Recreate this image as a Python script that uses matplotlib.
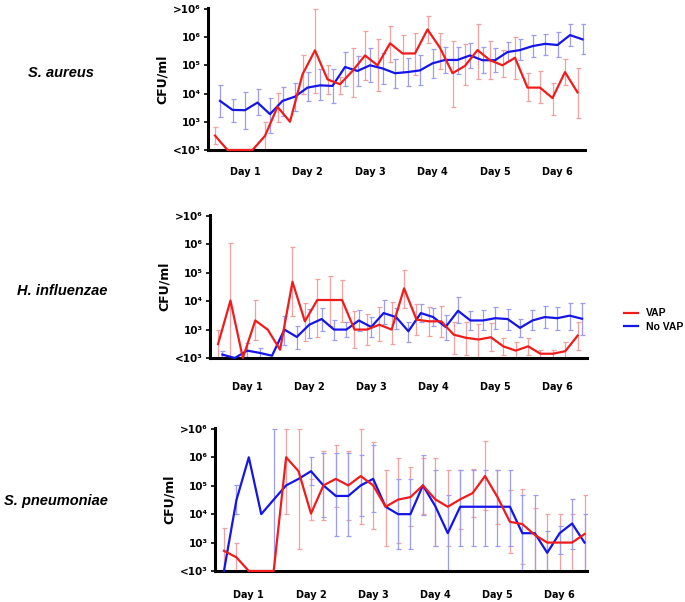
import matplotlib
matplotlib.use("Agg")
import matplotlib.pyplot as plt
import numpy as np

nan = np.nan

# values are log10(CFU/ml); 2 stands for "<10^3", 7 for ">10^6"
DAYS = ["Day 1", "Day 2", "Day 3", "Day 4", "Day 5", "Day 6"]
LEVELS = [2, 3, 4, 5, 6, 7]
LEVEL_LABELS = ["<10³", "10³", "10⁴", "10⁵", "10⁶", ">10⁶"]
SPECIES = ["S. aureus", "H. influenzae", "S. pneumoniae"]

SA_VAP = [2.51, 2.0, 2.0, 2.0, 2.5, 3.53, 3.0, 4.68, 5.53, 4.5, 4.33, 4.8, 5.35, 5.0, 5.78,
          5.42, 5.42, 6.27, 5.62, 4.72, 4.98, 5.54, 5.18, 5.0, 5.27, 4.21, 4.21, 3.84, 4.76, 4.04]
SA_VAP_HI = [2.82, nan, nan, nan, 3.0, 4.01, nan, 5.35, 7.0, 5.0, 4.6, 5.62, 6.2, 5.94, 6.39,
             6.09, 6.15, 6.76, 6.15, 5.86, 5.74, 6.47, 5.86, 5.55, 6.0, 4.72, 4.8, 4.39, 5.21, 4.92]
SA_VAP_LO = [2.22, nan, nan, nan, 2.0, 3.0, nan, 4.0, 4.01, 4.0, 4.0, 3.89, 4.47, 4.09, 5.13,
             4.76, 4.65, 5.8, 4.86, 3.51, 4.29, 4.53, 4.53, 4.6, 4.53, 3.74, 3.65, 3.24, 4.29, 3.12]
SA_NOVAP = [3.74, 3.42, 3.41, 3.68, 3.27, 3.74, 3.89, 4.21, 4.29, 4.27, 4.94, 4.8, 5.0, 4.89, 4.72,
            4.76, 4.82, 5.07, 5.19, 5.19, 5.35, 5.18, 5.18, 5.47, 5.54, 5.68, 5.76, 5.72, 6.07, 5.92]
SA_NOVAP_HI = [4.29, 3.82, 4.04, 4.15, 3.85, 4.24, 4.39, 4.76, 4.86, 4.86, 5.48, 5.32, 5.62, 5.44, 5.24,
               5.26, 5.35, 5.59, 5.66, 5.66, 5.8, 5.65, 5.62, 5.82, 5.94, 6.06, 6.12, 6.19, 6.48, 6.45]
SA_NOVAP_LO = [3.18, 3.0, 2.76, 3.24, 2.61, 3.2, 3.39, 3.72, 3.76, 3.68, 4.25, 4.25, 4.41, 4.35, 4.21,
               4.25, 4.29, 4.56, 4.72, 4.69, 4.92, 4.74, 4.76, 5.15, 5.18, 5.29, 5.35, 5.29, 5.68, 5.39]

HI_VAP = [2.49, 4.02, 2.0, 3.32, 3.0, 2.29, 4.68, 3.29, 4.04, 4.04, 4.04, 3.0, 3.0, 3.17, 3.0,
          4.45, 3.35, 3.29, 3.29, 2.82, 2.71, 2.65, 2.73, 2.41, 2.26, 2.41, 2.15, 2.15, 2.24, 2.79]
HI_VAP_HI = [3.0, 6.03, nan, 4.04, nan, nan, 5.89, 3.92, 4.79, 4.87, 4.73, 3.64, 3.54, 3.79, 3.98,
             5.1, 3.9, 3.79, 3.83, 3.25, 3.25, 3.2, 3.23, 2.7, 2.55, 2.7, 2.29, 2.29, 2.55, 3.25]
HI_VAP_LO = [2.0, 2.0, nan, 2.65, nan, nan, 3.46, 2.59, 2.74, 3.11, 3.25, 2.35, 2.44, 2.59, 2.51,
             3.75, 2.82, 2.79, 2.74, 2.15, 2.12, 2.0, 2.24, 2.12, 2.0, 2.12, 2.0, 2.0, 2.0, 2.27]
HI_NOVAP = [2.12, 2.0, 2.26, 2.18, 2.08, 3.0, 2.74, 3.17, 3.37, 3.0, 3.0, 3.32, 3.09, 3.58, 3.44,
            2.94, 3.58, 3.44, 3.09, 3.66, 3.32, 3.32, 3.4, 3.37, 3.06, 3.32, 3.44, 3.4, 3.49, 3.38]
HI_NOVAP_HI = [2.26, nan, 2.53, 2.35, nan, 3.46, 3.14, 3.72, 3.75, 3.35, 3.25, 3.69, 3.44, 4.04, 3.77,
               3.25, 3.9, 3.75, 3.52, 4.16, 3.64, 3.69, 3.79, 3.73, 3.37, 3.69, 3.84, 3.79, 3.95, 3.95]
HI_NOVAP_LO = [2.0, nan, 2.0, 2.0, nan, 2.47, 2.32, 2.71, 2.94, 2.65, 2.75, 2.94, 2.75, 3.21, 3.03,
               2.55, 3.25, 3.13, 2.62, 3.23, 2.98, 3.0, 3.02, 2.98, 2.74, 3.0, 3.06, 3.0, 3.0, 2.82]

SP_VAP = [2.71, 2.48, 2.0, 2.0, 2.0, 6.0, 5.51, 4.02, 5.01, 5.24, 5.01, 5.34, 5.01, 4.26, 4.51,
          4.6, 5.01, 4.52, 4.26, 4.52, 4.74, 5.34, 4.6, 3.73, 3.65, 3.27, 3.0, 3.0, 3.0, 3.3]
SP_VAP_HI = [3.5, 3.0, nan, nan, nan, 7.0, 7.0, 5.24, 6.23, 6.44, 6.21, 7.0, 6.52, 5.56, 5.98,
             5.65, 5.98, 5.98, 5.56, 5.56, 5.59, 6.56, 5.56, 4.86, 4.9, 4.2, 4.0, 4.0, 4.0, 4.66]
SP_VAP_LO = [2.0, 2.0, nan, nan, nan, 4.0, 2.76, 3.81, 3.79, 4.26, 3.79, 3.67, 3.47, 2.89, 3.0,
             3.58, 4.02, 2.89, 2.89, 3.47, 3.91, 4.14, 3.65, 2.62, 2.26, 2.0, 2.0, 2.0, 2.0, 2.0]
SP_NOVAP = [2.0, 4.49, 6.0, 4.0, 4.51, 5.01, 5.24, 5.51, 5.01, 4.64, 4.64, 5.01, 5.24, 4.26, 4.0,
            4.0, 5.01, 4.28, 3.33, 4.26, 4.26, 4.26, 4.26, 4.26, 3.33, 3.33, 2.64, 3.33, 3.67, 3.0]
SP_NOVAP_HI = [nan, 5.01, nan, nan, 7.0, nan, nan, 6.0, 6.15, 6.15, 6.15, 6.09, 6.44, nan, 5.24,
               5.24, 6.09, 5.56, 4.66, 5.56, 5.56, 5.56, 5.56, 5.56, 4.66, 4.66, 3.4, 3.6, 4.52, 4.0]
SP_NOVAP_LO = [nan, 4.0, nan, nan, 2.0, nan, nan, 5.01, 3.91, 3.23, 3.23, 3.93, 4.08, nan, 2.76,
               2.76, 3.97, 2.89, 2.0, 2.89, 2.89, 2.89, 2.89, 2.89, 2.0, 2.0, 2.0, 2.6, 2.76, 2.0]

PANELS = [
    (SA_VAP, SA_VAP_LO, SA_VAP_HI, SA_NOVAP, SA_NOVAP_LO, SA_NOVAP_HI),
    (HI_VAP, HI_VAP_LO, HI_VAP_HI, HI_NOVAP, HI_NOVAP_LO, HI_NOVAP_HI),
    (SP_VAP, SP_VAP_LO, SP_VAP_HI, SP_NOVAP, SP_NOVAP_LO, SP_NOVAP_HI),
]

RED, RED_ERR = "#f01c1c", "#f3a0a0"
BLUE, BLUE_ERR = "#1515e8", "#9c9cf0"

W, H = 685, 602
# axes boxes in pixels: left, top, right, bottom
BOXES = [(208, 8, 585, 150), (210, 215, 587, 358), (215, 428, 587, 571)]
XLIMS = [(-0.96, 29.2), (-1.0, 29.4), (-0.72, 29.2)]
RED_SHIFT = [0.4, 0.35, 0.0]
SPECIES_XY = [(61, 73), (62, 291), (56, 501)]
DAY_PAD = [20, 25, 22]

plt.rcParams["font.family"] = ["DejaVu Sans"]
fig = plt.figure(figsize=(W / 100, H / 100), dpi=100)


def draw_err(ax, x, lo, hi, color):
    lo = np.asarray(lo, float)
    hi = np.asarray(hi, float)
    ok = np.isfinite(lo) & np.isfinite(hi)
    mid = (lo + hi) / 2
    ax.errorbar(x[ok], mid[ok], yerr=[mid[ok] - lo[ok], hi[ok] - mid[ok]], fmt="none",
                ecolor=color, elinewidth=0.9, capsize=1.8, capthick=0.9, zorder=2)


for k, (l, t, r, b) in enumerate(BOXES):
    ax = fig.add_axes([l / W, 1 - b / H, (r - l) / W, (b - t) / H])
    vap, vap_lo, vap_hi, nov, nov_lo, nov_hi = PANELS[k]
    xb = np.arange(len(nov), dtype=float)
    xr = np.arange(len(vap), dtype=float) - RED_SHIFT[k]

    draw_err(ax, xr, vap_lo, vap_hi, RED_ERR)
    draw_err(ax, xb, nov_lo, nov_hi, BLUE_ERR)
    ax.plot(xr, vap, color=RED, lw=1.6, zorder=4, clip_on=False, label="VAP")
    ax.plot(xb, nov, color=BLUE, lw=1.6, zorder=3, clip_on=False, label="No VAP")

    ax.set_xlim(*XLIMS[k])
    ax.set_ylim(2, 7.03)
    ax.set_yticks(LEVELS)
    ax.set_yticklabels(LEVEL_LABELS, fontsize=7.5, fontweight="bold")
    ax.tick_params(axis="y", length=3, width=1.2, pad=2)
    ax.set_xticks([2 + 5 * i for i in range(len(DAYS))])
    ax.set_xticklabels(DAYS, fontsize=7, fontweight="bold")
    ax.tick_params(axis="x", length=0, pad=DAY_PAD[k] - 8)
    for side in ["top", "right"]:
        ax.spines[side].set_visible(False)
    for side in ["left", "bottom"]:
        ax.spines[side].set_linewidth(2.2)
    ax.set_ylabel("CFU/ml", fontsize=9, fontweight="bold", labelpad=3)
    ax.patch.set_alpha(0)

    sx, sy = SPECIES_XY[k]
    fig.text(sx / W, 1 - sy / H, SPECIES[k], fontsize=10.5, fontweight="bold",
             fontstyle="italic", family="Liberation Sans", ha="center", va="center")

    if k == 1:
        ax.legend(loc="center left", bbox_to_anchor=(615 / W, 1 - 320 / H),
                  bbox_transform=fig.transFigure, frameon=False,
                  prop={"size": 7.5, "weight": "bold", "family": "Liberation Sans"},
                  handlelength=1.3, handletextpad=0.8, labelspacing=0.3)

fig.savefig("out.png", dpi=100)
